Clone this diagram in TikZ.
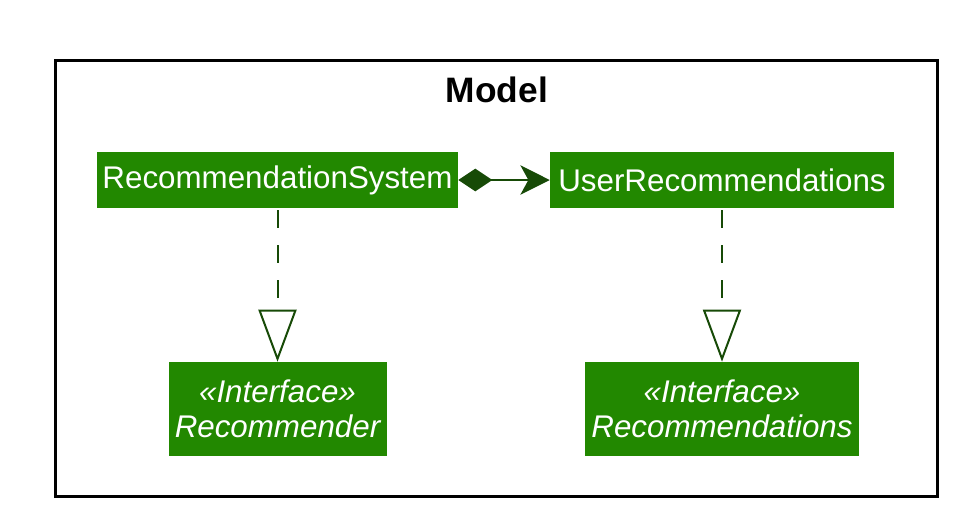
\documentclass[tikz,border=0pt]{standalone}
\usepackage{fontspec}
\setmainfont{Liberation Sans}
\usetikzlibrary{arrows.meta}
\definecolor{boxgreen}{HTML}{228800}
\definecolor{linegreen}{HTML}{174A07}

\begin{document}
\begin{tikzpicture}[x=0.75pt,y=-0.75pt,
    cls/.style={fill=boxgreen,text=white,inner sep=0pt,align=center,
      font=\fontsize{23.5}{26}\selectfont},
    iface/.style={cls,font=\itshape\fontsize{23.5}{26}\selectfont},
    comp/.style={draw=linegreen,line width=1.5pt,
      {Diamond[fill=linegreen,length=25.5pt,width=17pt]}-{Stealth[fill=linegreen,length=22pt,width=22pt,inset=6pt]}},
    realize/.style={draw=linegreen,line width=1.5pt,dash pattern=on 13.5pt off 12.75pt,dash phase=-1.5pt,
      -{Triangle[open,fill=white,length=39pt,width=28.5pt,line width=1.5pt]}}]
    \useasboundingbox (0,0) rectangle (962,522);
    % package frame
    \draw[line width=2.25pt] (55,60) rectangle (937,496);
    \node[font=\bfseries\fontsize{26.5}{30}\selectfont] (model) at (497,90) {Model};
    % classes
    \node[cls,minimum width=270.75pt,minimum height=42pt] (recsys) at (277.5,180) {RecommendationSystem};
    \node[cls,minimum width=258pt,minimum height=42pt] (userrec) at (722,180) {UserRecommendations};
    % interfaces
    \node[iface,minimum width=163.5pt,minimum height=70.5pt] (recommender) at (277.5,409) {«Interface»\\Recommender};
    \node[iface,minimum width=205.5pt,minimum height=70.5pt] (recommendations) at (722,409) {«Interface»\\Recommendations};
    % relations
    \draw[comp] (recsys.east) -- (userrec.west);
    \draw[realize] (recsys.south) -- (recommender.north);
    \draw[realize] (userrec.south) -- (recommendations.north);
\end{tikzpicture}
\end{document}
